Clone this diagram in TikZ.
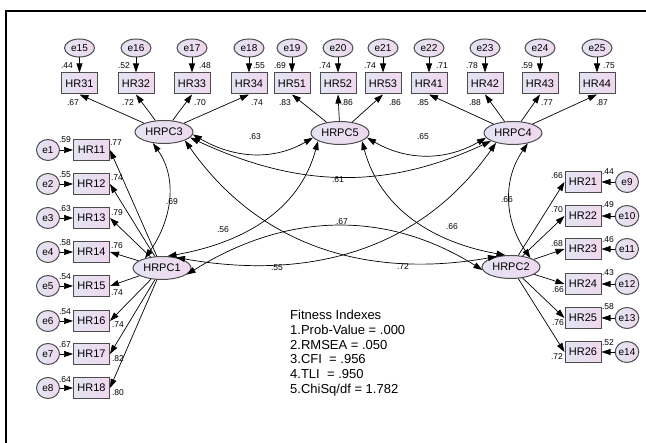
\documentclass[tikz,border=0pt]{standalone}
\usepackage{fontspec}
\setmainfont{Liberation Sans}
\usetikzlibrary{shapes.geometric, arrows.meta}
\definecolor{fillL}{HTML}{E3E4F1}
\definecolor{fillR}{HTML}{EFD8EF}
\tikzset{
    indicator/.style={rectangle, draw=black!70, left color=fillL, right color=fillR, minimum width=36pt, minimum height=21pt, inner sep=0pt, font=\fontsize{11}{11}\selectfont, line width=1pt},
    factor/.style={ellipse, draw=black!70, left color=fillL, right color=fillR, minimum width=58pt, minimum height=23pt, inner sep=0pt, font=\fontsize{11}{11}\selectfont, line width=1pt},
    errtop/.style={ellipse, draw=black!70, left color=fillL, right color=fillR, minimum width=30pt, minimum height=18pt, inner sep=0pt, font=\fontsize{10}{10}\selectfont, line width=1pt},
    errside/.style={errtop, minimum width=23pt, minimum height=21pt},
    loading/.style={draw, line width=0.7pt, -{Triangle[length=9pt, width=6pt]}},
    cov/.style={draw, line width=0.7pt, {Triangle[length=9pt, width=6pt]}-{Triangle[length=9pt, width=6pt]}},
    coef/.style={font=\fontsize{8.5}{8.5}\selectfont, inner sep=0pt},
    fitness/.style={font=\fontsize{13}{14.7}\selectfont, align=left, inner sep=0pt}
}
\begin{document}
\begin{tikzpicture}[x=1pt, y=1pt]
\useasboundingbox (0,0) rectangle (646,443);
% frame
\draw[line width=2pt] (6,0) -- (6,432) -- (646,432);

% Latent factors
\node[factor] (HRPC3) at (164,311) {HRPC3};
\node[factor] (HRPC5) at (340,310) {HRPC5};
\node[factor] (HRPC4) at (513,310) {HRPC4};
\node[factor] (HRPC1) at (162,175) {HRPC1};
\node[factor] (HRPC2) at (511,176) {HRPC2};

% Top row indicators
\node[indicator] (HR31) at (79.5,359.5) {HR31};
\node[indicator] (HR32) at (136,359.5) {HR32};
\node[indicator] (HR33) at (192,359.5) {HR33};
\node[indicator] (HR34) at (249,359.5) {HR34};
\node[indicator] (HR51) at (292,359.5) {HR51};
\node[indicator] (HR52) at (338,359.5) {HR52};
\node[indicator] (HR53) at (383,359.5) {HR53};
\node[indicator] (HR41) at (429,359.5) {HR41};
\node[indicator] (HR42) at (485,359.5) {HR42};
\node[indicator] (HR43) at (540,359.5) {HR43};
\node[indicator] (HR44) at (597,359.5) {HR44};

% Top row errors
\node[errtop] (e15) at (79.5,395) {e15};
\node[errtop] (e16) at (136,395) {e16};
\node[errtop] (e17) at (192,395) {e17};
\node[errtop] (e18) at (249,395) {e18};
\node[errtop] (e19) at (292,395) {e19};
\node[errtop] (e20) at (338,395) {e20};
\node[errtop] (e21) at (383,395) {e21};
\node[errtop] (e22) at (429,395) {e22};
\node[errtop] (e23) at (485,395) {e23};
\node[errtop] (e24) at (540,395) {e24};
\node[errtop] (e25) at (597,395) {e25};

% Left column (HRPC1)
\node[indicator] (HR11) at (91.5,293) {HR11};
\node[indicator] (HR12) at (91.5,259) {HR12};
\node[indicator] (HR13) at (91.5,225) {HR13};
\node[indicator] (HR14) at (91.5,191) {HR14};
\node[indicator] (HR15) at (91.5,157) {HR15};
\node[indicator] (HR16) at (91.5,122) {HR16};
\node[indicator] (HR17) at (91.5,89) {HR17};
\node[indicator] (HR18) at (91.5,55) {HR18};
\node[errside] (e1) at (48,293) {e1};
\node[errside] (e2) at (48,259) {e2};
\node[errside] (e3) at (48,225) {e3};
\node[errside] (e4) at (48,191) {e4};
\node[errside] (e5) at (48,157) {e5};
\node[errside] (e6) at (48,122) {e6};
\node[errside] (e7) at (48,89) {e7};
\node[errside] (e8) at (48,55) {e8};

% Right column (HRPC2)
\node[indicator] (HR21) at (583,261) {HR21};
\node[indicator] (HR22) at (583,227) {HR22};
\node[indicator] (HR23) at (583,194) {HR23};
\node[indicator] (HR24) at (583,159) {HR24};
\node[indicator] (HR25) at (583,125) {HR25};
\node[indicator] (HR26) at (583,91) {HR26};
\node[errside] (e9) at (627,261) {e9};
\node[errside] (e10) at (627,227) {e10};
\node[errside] (e11) at (627,194) {e11};
\node[errside] (e12) at (627,159) {e12};
\node[errside] (e13) at (627,125) {e13};
\node[errside] (e14) at (627,91) {e14};

% Error paths
\draw[loading] (e15) -- (HR31);
\draw[loading] (e16) -- (HR32);
\draw[loading] (e17) -- (HR33);
\draw[loading] (e18) -- (HR34);
\draw[loading] (e19) -- (HR51);
\draw[loading] (e20) -- (HR52);
\draw[loading] (e21) -- (HR53);
\draw[loading] (e22) -- (HR41);
\draw[loading] (e23) -- (HR42);
\draw[loading] (e24) -- (HR43);
\draw[loading] (e25) -- (HR44);
\draw[loading] (e1) -- (HR11);
\draw[loading] (e2) -- (HR12);
\draw[loading] (e3) -- (HR13);
\draw[loading] (e4) -- (HR14);
\draw[loading] (e5) -- (HR15);
\draw[loading] (e6) -- (HR16);
\draw[loading] (e7) -- (HR17);
\draw[loading] (e8) -- (HR18);
\draw[loading] (e9) -- (HR21);
\draw[loading] (e10) -- (HR22);
\draw[loading] (e11) -- (HR23);
\draw[loading] (e12) -- (HR24);
\draw[loading] (e13) -- (HR25);
\draw[loading] (e14) -- (HR26);

% Factor loadings
\draw[loading] (HRPC3) -- (HR31.south);
\draw[loading] (HRPC3) -- (HR32.south);
\draw[loading] (HRPC3) -- (HR33.south);
\draw[loading] (HRPC3) -- (HR34.south);
\draw[loading] (HRPC5) -- (HR51.south);
\draw[loading] (HRPC5) -- (HR52.south);
\draw[loading] (HRPC5) -- (HR53.south);
\draw[loading] (HRPC4) -- (HR41.south);
\draw[loading] (HRPC4) -- (HR42.south);
\draw[loading] (HRPC4) -- (HR43.south);
\draw[loading] (HRPC4) -- (HR44.south);
\draw[loading] (HRPC1) -- (HR11.east);
\draw[loading] (HRPC1) -- (HR12.east);
\draw[loading] (HRPC1) -- (HR13.east);
\draw[loading] (HRPC1) -- (HR14.east);
\draw[loading] (HRPC1) -- (HR15.east);
\draw[loading] (HRPC1) -- (HR16.east);
\draw[loading] (HRPC1) -- (HR17.east);
\draw[loading] (HRPC1) -- (HR18.east);
\draw[loading] (HRPC2) -- (HR21.west);
\draw[loading] (HRPC2) -- (HR22.west);
\draw[loading] (HRPC2) -- (HR23.west);
\draw[loading] (HRPC2) -- (HR24.west);
\draw[loading] (HRPC2) -- (HR25.west);
\draw[loading] (HRPC2) -- (HR26.west);

% Covariances
\draw[cov] (HRPC3.-5) to[out=-30, in=-150] (HRPC5.190);
\draw[cov] (HRPC5.-10) to[out=-30, in=-150] (HRPC4.190);
\draw[cov] (HRPC3.-12) to[out=-25, in=-155] (HRPC4.200);
\draw[cov] (HRPC3.225) to[out=-55, in=55] (HRPC1.150);
\draw[cov] (HRPC4.-35) to[out=-125, in=125] (HRPC2.25);
\draw[cov] (HRPC5.200) to[out=-105, in=10] (HRPC1.65);
\draw[cov] (HRPC5.-20) to[out=-75, in=170] (HRPC2.115);
\draw[cov] (HRPC4.210) to[out=-125, in=-10] (HRPC1.37);
\draw[cov] (HRPC3.-22) to[out=-55, in=190] (HRPC2.143);
\draw[cov] (HRPC1.-15) to[out=32, in=148] (HRPC2.186);

% Error variances
\node[coef] (le15) at (67,377) {.44};
\node[coef] (le16) at (124,377) {.52};
\node[coef] (le17) at (205,377) {.48};
\node[coef] (le18) at (259,377) {.55};
\node[coef] (le19) at (280,377) {.69};
\node[coef] (le20) at (325,377) {.74};
\node[coef] (le21) at (370,377) {.74};
\node[coef] (le22) at (442,377) {.71};
\node[coef] (le23) at (472,377) {.78};
\node[coef] (le24) at (527,377) {.59};
\node[coef] (le25) at (609,377) {.75};
\node[coef] (le1) at (65,303) {.59};
\node[coef] (le2) at (65,268) {.55};
\node[coef] (le3) at (65,234) {.63};
\node[coef] (le4) at (65,200) {.58};
\node[coef] (le5) at (65,166) {.54};
\node[coef] (le6) at (65,131) {.54};
\node[coef] (le7) at (65,98) {.67};
\node[coef] (le8) at (65,63) {.64};
\node[coef] (le9) at (608,271) {.44};
\node[coef] (le10) at (608,238) {.49};
\node[coef] (le11) at (608,203) {.46};
\node[coef] (le12) at (608,170) {.43};
\node[coef] (le13) at (608,136) {.58};
\node[coef] (le14) at (608,100) {.52};

% Loadings
\node[coef] (lHR31) at (73,340) {.67};
\node[coef] (lHR32) at (128,340) {.72};
\node[coef] (lHR33) at (200,340) {.70};
\node[coef] (lHR34) at (257,340) {.74};
\node[coef] (lHR51) at (285,340) {.83};
\node[coef] (lHR52) at (347,340) {.86};
\node[coef] (lHR53) at (395,340) {.86};
\node[coef] (lHR41) at (423,340) {.85};
\node[coef] (lHR42) at (475,340) {.88};
\node[coef] (lHR43) at (547,340) {.77};
\node[coef] (lHR44) at (602,340) {.87};
\node[coef] (lHR11) at (116,300) {.77};
\node[coef] (lHR12) at (117,265) {.74};
\node[coef] (lHR13) at (117,230) {.79};
\node[coef] (lHR14) at (117,197) {.76};
\node[coef] (lHR15) at (117,150) {.74};
\node[coef] (lHR16) at (118,118) {.74};
\node[coef] (lHR17) at (118,84) {.82};
\node[coef] (lHR18) at (118,50) {.80};
\node[coef] (lHR21) at (557,267) {.66};
\node[coef] (lHR22) at (557,233) {.70};
\node[coef] (lHR23) at (557,199) {.68};
\node[coef] (lHR24) at (558,153) {.66};
\node[coef] (lHR25) at (558,120) {.76};
\node[coef] (lHR26) at (557,86) {.72};

% Correlations
\node[coef] (r35) at (255,306) {.63};
\node[coef] (r54) at (423,306) {.65};
\node[coef] (r34) at (338,263) {.61};
\node[coef] (r31) at (172,241) {.69};
\node[coef] (r42) at (507,243) {.66};
\node[coef] (r51) at (223,213) {.56};
\node[coef] (r52) at (452,216) {.66};
\node[coef] (r12) at (342,221) {.67};
\node[coef] (r41) at (277,175) {.55};
\node[coef] (r32) at (403,176) {.72};

% Fit indices
\node[fitness, anchor=north west] (fit) at (290,133) {Fitness Indexes\\1.Prob-Value = .000\\2.RMSEA = .050\\3.CFI\ \ = .956\\4.TLI\ \ = .950\\5.ChiSq/df = 1.782};
\end{tikzpicture}
\end{document}
